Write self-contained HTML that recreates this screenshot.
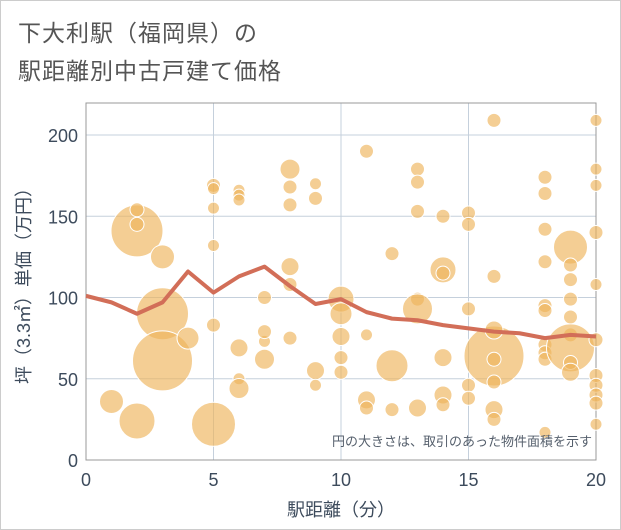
<!DOCTYPE html>
<html><head><meta charset="utf-8"><style>
body{margin:0;background:#fff;font-family:"Liberation Sans","Noto Sans CJK JP",sans-serif;}
#wrap{position:relative;width:621px;height:530px;}
.t{position:absolute;left:18px;font-size:23px;color:#555;letter-spacing:1px;}
</style></head><body>
<div id="wrap">
<div class="t" style="top:14px">下大利駅（福岡県）の</div>
<div class="t" style="top:52px">駅距離別中古戸建て価格</div>
<svg id="chart" width="621" height="530" style="position:absolute;left:0;top:0"></svg>
</div>
<script>
const xTicks=[0,5,10,15,20];
const yTicks=[0,50,100,150,200];
const bubbleX=[1,2,2,2,2,3,3,3,4,5,5,5,5,5,5,6,6,6,6,6,6,7,7,7,7,8,8,8,8,8,8,9,9,9,9,10,10,10,10,10,11,11,11,11,12,12,12,13,13,13,13,13,13,14,14,14,14,14,14,15,15,15,15,15,16,16,16,16,16,16,16,16,18,18,18,18,18,18,18,18,18,18,19,19,19,19,19,19,19,19,19,20,20,20,20,20,20,20,20,20,20,20];
const bubbleY=[36,141,154,145,24,125,90,61,75,169,167,155,132,83,22,166,163,160,69,50,44,73,100,79,62,179,168,157,119,108,75,170,161,55,46,99,90,76,63,54,190,77,37,32,127,58,31,179,171,153,99,93,32,150,117,115,63,40,34,152,145,93,46,38,209,113,64,80,62,48,31,25,174,164,142,122,95,92,71,66,62,17,131,120,111,99,88,77,69,60,54,209,179,169,140,108,74,52,46,40,35,22];
const bubbleR=[12,26,7,7,18,12,26,30,11,7,6,6,6,7,22,6,6,6,9,6,10,6,7,7,10,10,7,7,9,7,7,6,7,9,6,13,11,9,7,7,7,6,9,7,7,16,7,7,7,7,7,15,9,7,13,7,9,9,7,7,7,7,7,7,7,7,30,9,7,7,9,7,7,7,7,7,7,7,7,7,7,6,17,7,7,7,7,7,24,7,9,6,6,6,7,6,7,7,7,7,7,6];
const lineX=[0,1,2,3,4,5,6,7,8,9,10,11,12,13,14,15,16,17,18,19,20];
const lineY=[101,97,90,97,116,103,113,119,107,96,99,91,87,86,83,81,79,78,75,77,76];
const L=86,R=596,T=103,B=460;
const xs=v=>L+(v-0)/20*(R-L);
const ys=v=>B-v/200*(B-135);
const svg=document.getElementById('chart');
const NS='http://www.w3.org/2000/svg';
function mk(t,a){const e=document.createElementNS(NS,t);for(const k in a)e.setAttribute(k,a[k]);svg.appendChild(e);return e;}
const frame=mk('rect',{x:0.5,y:0.5,width:620,height:529,fill:'none',stroke:'#ccc'});


xTicks.forEach(v=>{const g=mk('line',{x1:xs(v),x2:xs(v),y1:T,y2:B,stroke:'#c5d0dc','stroke-width':1});


const t=mk('text',{x:xs(v),y:486,'text-anchor':'middle','font-size':18,fill:'#3d4b5c'});t.textContent=v;

});
yTicks.forEach(v=>{const g=mk('line',{x1:L,x2:R,y1:ys(v),y2:ys(v),stroke:'#c5d0dc','stroke-width':1});


const t=mk('text',{x:78,y:ys(v)+7,'text-anchor':'end','font-size':18,fill:'#3d4b5c'});t.textContent=v;

});
const pa=mk('rect',{x:L,y:T,width:R-L,height:B-T,fill:'none',stroke:'#999','stroke-width':1});


bubbleX.forEach((x,i)=>{const c=mk('circle',{cx:xs(x),cy:ys(bubbleY[i]),r:bubbleR[i],fill:'rgba(238,180,90,0.65)',stroke:'#fff','stroke-width':1});

});
const ln=mk('polyline',{points:lineX.map((x,i)=>xs(x)+','+ys(lineY[i])).join(' '),fill:'none',stroke:'#d26e58','stroke-width':4,'stroke-linejoin':'round'});


const note=mk('text',{x:592,y:446,'text-anchor':'end','font-size':13,fill:'#555f6c'});note.textContent='円の大きさは、取引のあった物件面積を示す';


const xt=mk('text',{x:(L+R)/2,y:516,'text-anchor':'middle','font-size':18,fill:'#3d4b5c'});xt.textContent='駅距離（分）';


const yt=mk('text',{x:0,y:0,'text-anchor':'middle','font-size':18,fill:'#3d4b5c',transform:'translate(30,'+((T+B)/2)+') rotate(-90)'});yt.textContent='坪（3.3㎡）単価（万円）';


</script>
</body></html>
